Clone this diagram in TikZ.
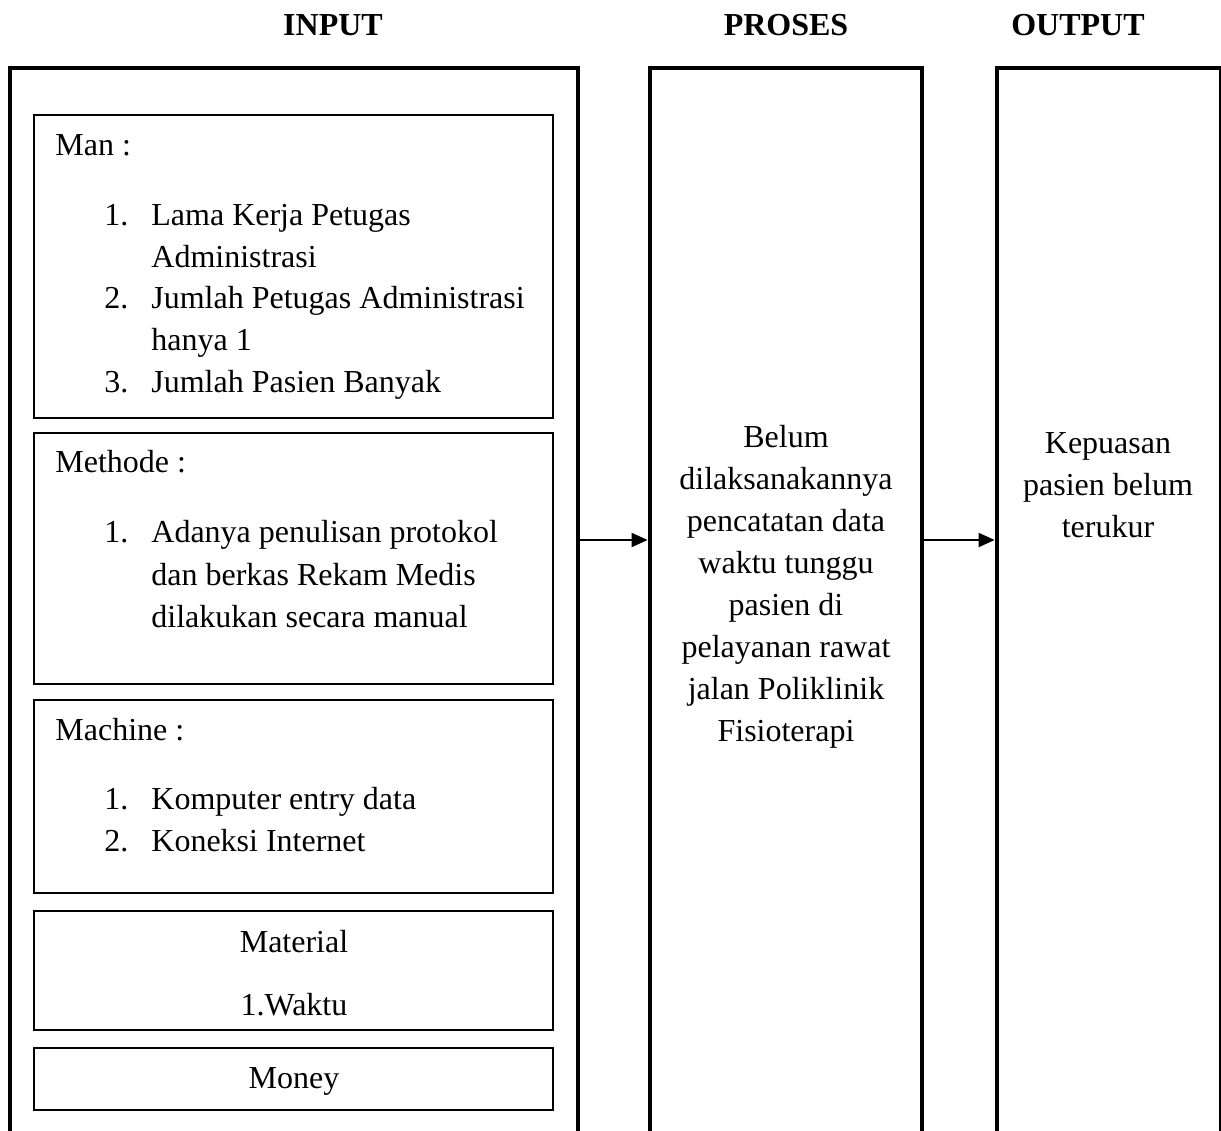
\documentclass[tikz,border=0pt]{standalone}
\usepackage{fontspec}
\setmainfont{Liberation Serif}
\usetikzlibrary{arrows.meta,fit}
\tikzset{
  frame/.style={line width=2pt},
  ibox/.style={draw, line width=1pt, inner sep=0pt},
  hold/.style={inner sep=0pt, draw=none},
  txt/.style={inner sep=0pt, anchor=base west, font=\fontsize{16}{21}\selectfont},
  ctxt/.style={inner sep=0pt, anchor=base, font=\fontsize{16}{21}\selectfont},
  ttl/.style={inner sep=0pt, anchor=base, font=\fontsize{16}{21}\selectfont\bfseries},
  arr/.style={line width=1pt, -{Triangle[length=8pt,width=7pt]}}
}
\begin{document}
\begin{tikzpicture}[x=0.5pt,y=-0.5pt]
\useasboundingbox (0,0) rectangle (1221,1130);
% titles
\node[ttl] (tin) at (333,35) {INPUT};
\node[ttl] (tpr) at (786,35) {PROSES};
\node[ttl] (tout) at (1078,35) {OUTPUT};
% outer frames (open at the bottom)
\node[hold, fit={(10,68) (578,1145)}] (inbox) {};
\node[hold, fit={(650,68) (922,1145)}] (prbox) {};
\node[hold, fit={(997,68) (1221,1145)}] (outbox) {};
\draw[frame] (inbox.south west) |- (inbox.north east) -- (inbox.south east);
\draw[frame] (prbox.south west) |- (prbox.north east) -- (prbox.south east);
\draw[frame] (outbox.south west) |- (outbox.north east) -- (outbox.south east);
% arrows
\coordinate (lvl) at (0,540);
\draw[arr] (inbox.east |- lvl) -- ([xshift=-1pt]prbox.west |- lvl);
\draw[arr] (prbox.east |- lvl) -- ([xshift=-1pt]outbox.west |- lvl);
% inner boxes
\node[ibox, fit={(34,115) (553,418)}] (man) {};
\node[ibox, fit={(34,433) (553,684)}] (met) {};
\node[ibox, fit={(34,700) (553,893)}] (mac) {};
\node[ibox, fit={(34,911) (553,1030)}] (mat) {};
\node[ibox, fit={(34,1048) (553,1110)}] (mon) {};
% Man
\node[txt] (man0) at (55,155) {Man :};
\node[txt] (man1n) at (104,225) {1.};
\node[txt] (man1) at (151,225) {Lama Kerja Petugas};
\node[txt] (man1b) at (151,267) {Administrasi};
\node[txt] (man2n) at (104,308) {2.};
\node[txt] (man2) at (151,308) {Jumlah Petugas Administrasi};
\node[txt] (man2b) at (151,350) {hanya 1};
\node[txt] (man3n) at (104,392) {3.};
\node[txt] (man3) at (151,392) {Jumlah Pasien Banyak};
% Methode
\node[txt] (met0) at (55,472) {Methode :};
\node[txt] (met1n) at (104,542) {1.};
\node[txt] (met1) at (151,542) {Adanya penulisan protokol};
\node[txt] (met1b) at (151,585) {dan berkas Rekam Medis};
\node[txt] (met1c) at (151,627) {dilakukan secara manual};
% Machine
\node[txt] (mac0) at (55,740) {Machine :};
\node[txt] (mac1n) at (104,809) {1.};
\node[txt] (mac1) at (151,809) {Komputer entry data};
\node[txt] (mac2n) at (104,851) {2.};
\node[txt] (mac2) at (151,851) {Koneksi Internet};
% Material, Money
\node[ctxt] (mat0) at (294,952) {Material};
\node[ctxt] (mat1) at (294,1015) {1.Waktu};
\node[ctxt] (mon0) at (294,1088) {Money};
% Proses
\node[ctxt] (p1) at (786,447) {Belum};
\node[ctxt] (p2) at (786,489) {dilaksanakannya};
\node[ctxt] (p3) at (786,531) {pencatatan data};
\node[ctxt] (p4) at (786,573) {waktu tunggu};
\node[ctxt] (p5) at (786,615) {pasien di};
\node[ctxt] (p6) at (786,657) {pelayanan rawat};
\node[ctxt] (p7) at (786,699) {jalan Poliklinik};
\node[ctxt] (p8) at (786,741) {Fisioterapi};
% Output
\node[ctxt] (o1) at (1108,453) {Kepuasan};
\node[ctxt] (o2) at (1108,495) {pasien belum};
\node[ctxt] (o3) at (1108,537) {terukur};
\end{tikzpicture}
\end{document}
